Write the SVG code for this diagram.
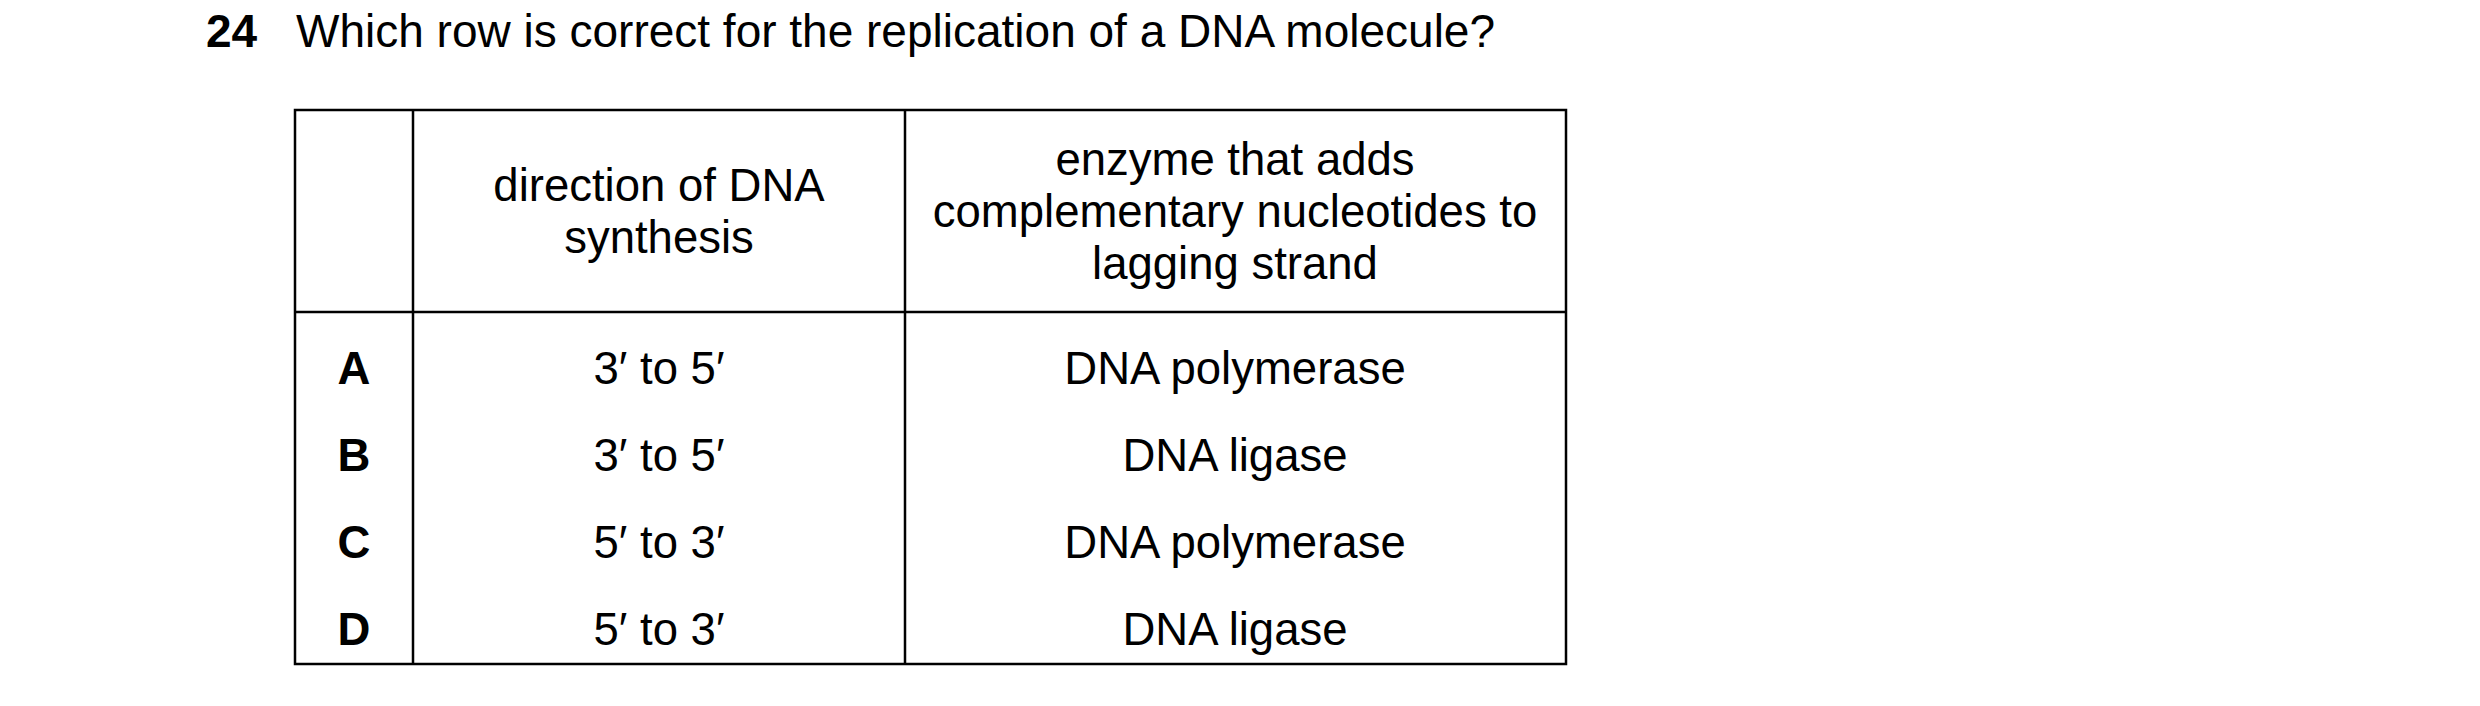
<svg xmlns="http://www.w3.org/2000/svg" width="2480" height="706" viewBox="0 0 2480 706">
<style>
text{font-family:"Liberation Sans",Arial,sans-serif;font-size:45.5px;fill:#000}
.c{text-anchor:middle}
.b{font-weight:bold}
.l{stroke:#000;stroke-width:2.5;fill:none}
</style>
<rect width="2480" height="706" fill="#fff"/>
<g id="question">
<text x="206" y="47" class="b" style="font-size:46px">24</text>
<text x="296" y="47" style="font-size:46px">Which row is correct for the replication of a DNA molecule?</text>
</g>
<g id="table">
<rect class="l" x="295" y="110" width="1271" height="554"/>
<line class="l" x1="413" y1="110" x2="413" y2="664"/>
<line class="l" x1="905" y1="110" x2="905" y2="664"/>
<line class="l" x1="295" y1="312" x2="1566" y2="312"/>
<text class="c" x="659" y="201">direction of DNA</text>
<text class="c" x="659" y="253">synthesis</text>
<text class="c" x="1235" y="175">enzyme that adds</text>
<text class="c" x="1235" y="227">complementary nucleotides to</text>
<text class="c" x="1235" y="279">lagging strand</text>
<text class="c b" x="354" y="384">A</text><text class="c" x="659" y="384">3′ to 5′</text><text class="c" x="1235" y="384">DNA polymerase</text>
<text class="c b" x="354" y="471">B</text><text class="c" x="659" y="471">3′ to 5′</text><text class="c" x="1235" y="471">DNA ligase</text>
<text class="c b" x="354" y="558">C</text><text class="c" x="659" y="558">5′ to 3′</text><text class="c" x="1235" y="558">DNA polymerase</text>
<text class="c b" x="354" y="645">D</text><text class="c" x="659" y="645">5′ to 3′</text><text class="c" x="1235" y="645">DNA ligase</text>
</g>
</svg>
